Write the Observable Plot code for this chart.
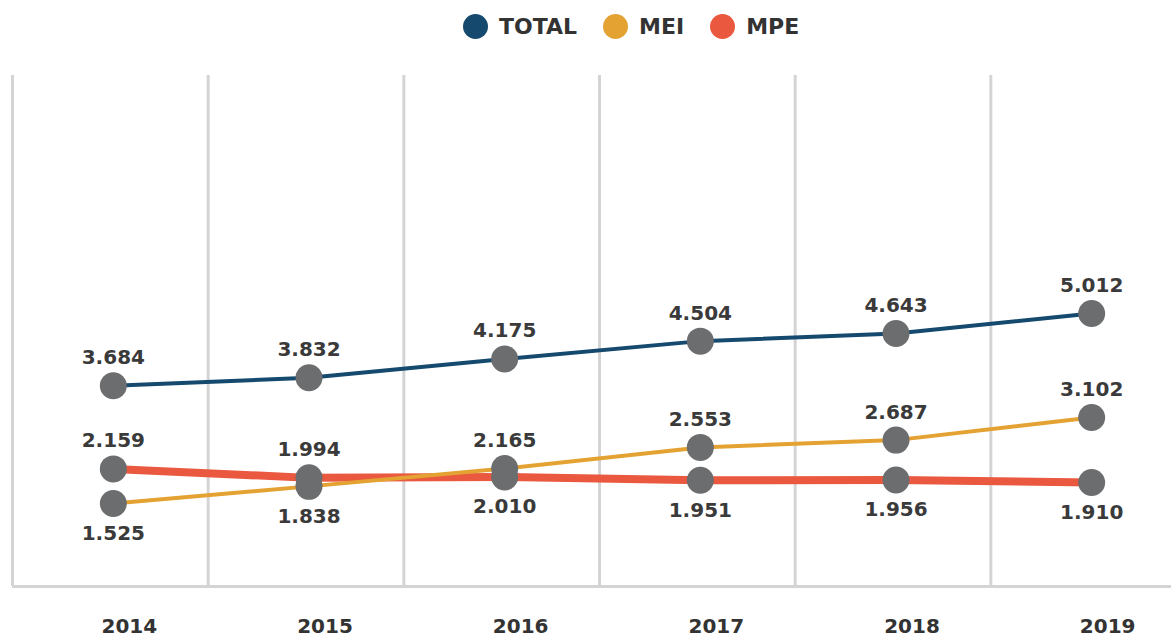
<!DOCTYPE html>
<html>
<head>
<meta charset="utf-8">
<script src="https://cdn.jsdelivr.net/npm/d3@7"></script>
<script src="https://cdn.jsdelivr.net/npm/@observablehq/plot@0.6"></script>
<style>
  html, body { margin: 0; padding: 0; background: #fff; }
  body { width: 1171px; height: 637px; overflow: hidden; font-family: "DejaVu Sans", sans-serif; }
  #legend { height: 60px; position: relative; }
  #legend .items { position: absolute; left: 463px; top: 14px; display: flex; align-items: center; gap: 26px; }
  #legend .item { display: flex; align-items: center; gap: 11px; font-weight: bold; font-size: 22px; color: #333; }
  #legend .sw { width: 25px; height: 25px; border-radius: 50%; display: inline-block; }
  svg { display: block; }
</style>
</head>
<body>
<div id="legend"><div class="items"></div></div>
<div id="chart"></div>
<script>
const years = [2014, 2015, 2016, 2017, 2018, 2019];
const total = [3.684, 3.832, 4.175, 4.504, 4.643, 5.012];
const mei   = [1.525, 1.838, 2.165, 2.553, 2.687, 3.102];
const mpe   = [2.159, 1.994, 2.010, 1.951, 1.956, 1.910];
const seriesNames = ["TOTAL", "MEI", "MPE"];
const seriesColors = ["#15496d", "#e4a232", "#e9583f"];

const fmt = v => v.toFixed(3);

// legend
const items = document.querySelector("#legend .items");
seriesNames.forEach((n, i) => {
  const it = document.createElement("div");
  it.className = "item";
  it.innerHTML = `<span class="sw" style="background:${seriesColors[i]}"></span><span>${n}</span>`;
  items.appendChild(it);
});

const rows = [];
years.forEach((yr, i) => {
  rows.push({year: yr, series: "TOTAL", value: total[i], pos: "above"});
  rows.push({year: yr, series: "MEI", value: mei[i], pos: mei[i] > mpe[i] ? "above" : "below"});
  rows.push({year: yr, series: "MPE", value: mpe[i], pos: mpe[i] > mei[i] ? "above" : "below"});
});
const bySeries = s => rows.filter(r => r.series === s);

const yTop = 9.38;
const textStyle = {fontSize: 20, fontWeight: "bold", fill: "#3a3a3a", fontFamily: "DejaVu Sans", lineAnchor: "middle"};

const chart = Plot.plot({
  width: 1171,
  height: 577,
  marginLeft: 12,
  marginRight: 0,
  marginTop: 15,
  marginBottom: 51,
  x: {type: "linear", domain: [2013.5, 2019.5], range: [15, 1189], axis: null, label: null},
  y: {domain: [0, yTop], range: [526, 15], axis: null, label: null},
  style: {fontFamily: "DejaVu Sans", background: "#fff", overflow: "visible"},
  marks: [
    Plot.ruleX(years.map(y => y - 0.5), {y1: 0, y2: yTop, stroke: "#d4d4d4", strokeWidth: 3, dx: -3}),
    Plot.ruleY([0], {stroke: "#d4d4d4", strokeWidth: 3}),
    Plot.axisX(years, {tickSize: 0, tickPadding: 32, dx: 16, label: null, tickFormat: d => String(d), fontSize: 20, fontWeight: "bold", fill: "#333", fontFamily: "DejaVu Sans"}),
    Plot.line(bySeries("MPE"), {x: "year", y: "value", stroke: seriesColors[2], strokeWidth: 8}),
    Plot.line(bySeries("MEI"), {x: "year", y: "value", stroke: seriesColors[1], strokeWidth: 4}),
    Plot.line(bySeries("TOTAL"), {x: "year", y: "value", stroke: seriesColors[0], strokeWidth: 4}),
    Plot.dot(rows, {x: "year", y: "value", r: 13.5, fill: "#6b6d6f", stroke: "none"}),
    Plot.text(rows.filter(r => r.pos === "above"), {x: "year", y: "value", text: d => fmt(d.value), dy: -28, ...textStyle}),
    Plot.text(rows.filter(r => r.pos === "below"), {x: "year", y: "value", text: d => fmt(d.value), dy: 30, ...textStyle})
  ]
});
document.getElementById("chart").appendChild(chart);
</script>
</body>
</html>
